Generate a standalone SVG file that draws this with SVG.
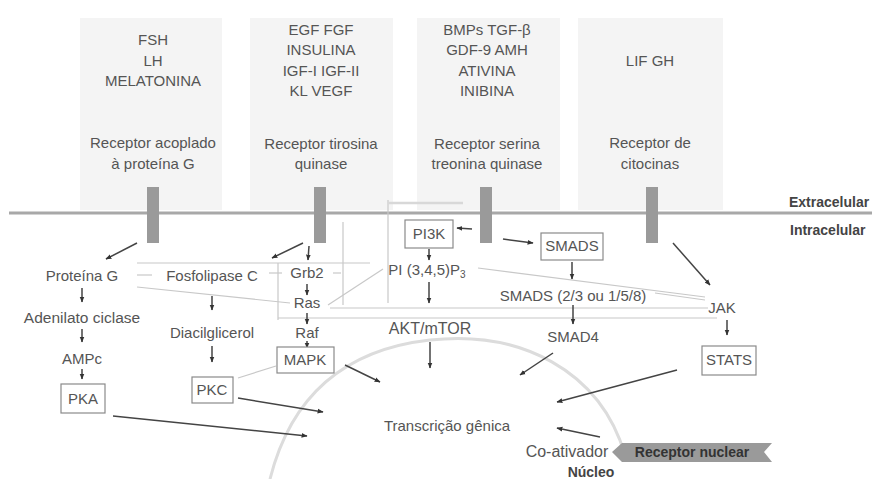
<svg xmlns="http://www.w3.org/2000/svg" width="872" height="479" viewBox="0 0 872 479">
<defs>
<marker id="ah" viewBox="0 0 10 10" refX="9" refY="5" markerWidth="6" markerHeight="6" orient="auto" markerUnits="userSpaceOnUse"><path d="M0,1 L10,5 L0,9 z" fill="#333"/></marker>
<style>
text{font-family:"Liberation Sans",Arial,sans-serif;font-size:15px;fill:#555;text-anchor:middle}
.panel{fill:#f4f4f4}
.rec{fill:#9a9a9a}
.box{fill:#fff;stroke:#8a8a8a;stroke-width:1.2}
.arr{stroke:#444;stroke-width:1.5;fill:none;marker-end:url(#ah)}
.thin{stroke:#c8c8c8;stroke-width:1.2;fill:none}
.lab{font-weight:bold;fill:#444;font-size:14px;text-anchor:start}
</style>
</defs>
<rect width="872" height="479" fill="#fff"/>
<g id="panels">
<rect class="panel" x="80" y="18" width="142" height="192"/>
<rect class="panel" x="250" y="18" width="143" height="192"/>
<rect class="panel" x="417" y="18" width="143" height="192"/>
<rect class="panel" x="578" y="18" width="145" height="192"/>
</g>
<g id="ligands-g">
<text x="153" y="45">FSH</text><text x="153" y="66">LH</text><text x="153" y="86">MELATONINA</text>
<text x="153" y="148">Receptor acoplado</text><text x="153" y="169">à proteína G</text>
</g>
<g id="ligands-tk">
<text x="321" y="35">EGF FGF</text><text x="321" y="55">INSULINA</text><text x="321" y="76">IGF-I IGF-II</text><text x="321" y="96">KL VEGF</text>
<text x="321" y="149">Receptor tirosina</text><text x="321" y="169">quinase</text>
</g>
<g id="ligands-st">
<text x="487" y="35">BMPs TGF-β</text><text x="487" y="55">GDF-9 AMH</text><text x="487" y="76">ATIVINA</text><text x="487" y="96">INIBINA</text>
<text x="487" y="149">Receptor serina</text><text x="487" y="169">treonina quinase</text>
</g>
<g id="ligands-cit">
<text x="650" y="66">LIF GH</text>
<text x="650" y="148">Receptor de</text><text x="650" y="169">citocinas</text>
</g>
<g id="membrane">
<line x1="9" y1="213" x2="872" y2="213" stroke="#a8a8a8" stroke-width="3"/>
<text class="lab" x="789" y="207">Extracelular</text>
<text class="lab" x="790" y="235">Intracelular</text>
</g>
<g id="receptors">
<rect class="rec" x="147" y="187" width="12" height="56"/>
<rect class="rec" x="314" y="187" width="12" height="56"/>
<rect class="rec" x="480" y="187" width="12" height="56"/>
<rect class="rec" x="646" y="187" width="12" height="56"/>
</g>
<g id="nucleus-arc">
<path d="M270 479 C290 400 340 350 430 340 S600 370 625 455" stroke="#dcdcdc" stroke-width="3" fill="none"/>
</g>
<g id="connectors">
<line class="thin" x1="137" y1="275" x2="152" y2="275"/>
<line class="thin" x1="137" y1="287" x2="290" y2="303"/>
<line class="thin" x1="137" y1="263" x2="370" y2="263"/>
<line class="thin" x1="278" y1="263" x2="278" y2="320"/>
<line class="thin" x1="269" y1="273" x2="282" y2="273"/>
<line class="thin" x1="333" y1="273" x2="341" y2="273"/>
<line class="thin" x1="343" y1="222" x2="343" y2="305"/>
<line class="thin" x1="388" y1="200" x2="388" y2="303"/>
<line x1="388" y1="203" x2="463" y2="203" stroke="#d8d8d8" stroke-width="2.5"/>
<line class="thin" x1="328" y1="305" x2="383" y2="269"/>
<line class="thin" x1="330" y1="308" x2="708" y2="308"/>
<line class="thin" x1="278" y1="318" x2="717" y2="318"/>
<line class="thin" x1="478" y1="268" x2="705" y2="297"/>
<line class="thin" x1="655" y1="293" x2="705" y2="300"/>
<line class="thin" x1="238" y1="378" x2="276" y2="366"/>
<line class="arr" x1="137" y1="243" x2="106" y2="259"/>
<line class="arr" x1="82" y1="288" x2="82" y2="302"/>
<line class="arr" x1="82" y1="329" x2="82" y2="342"/>
<line class="arr" x1="82" y1="369" x2="82" y2="379"/>
<line class="arr" x1="113" y1="416" x2="307" y2="436"/>
<line class="arr" x1="212" y1="296" x2="212" y2="310"/>
<line class="arr" x1="212" y1="346" x2="212" y2="362"/>
<line class="arr" x1="238" y1="398" x2="323" y2="412"/>
<line class="arr" x1="303" y1="243" x2="272" y2="258"/>
<line class="arr" x1="309" y1="246" x2="308" y2="260"/>
<line class="arr" x1="307" y1="284" x2="307" y2="295"/>
<line class="arr" x1="307" y1="313" x2="307" y2="324"/>
<line class="arr" x1="307" y1="341" x2="307" y2="348"/>
<line class="arr" x1="345" y1="365" x2="380" y2="382"/>
<line class="arr" x1="472" y1="229" x2="457" y2="228"/>
<line class="arr" x1="429" y1="249" x2="429" y2="260"/>
<line class="arr" x1="429" y1="282" x2="429" y2="303"/>
<line class="arr" x1="430" y1="342" x2="430" y2="368"/>
<line class="arr" x1="503" y1="239" x2="533" y2="243"/>
<line class="arr" x1="572" y1="262" x2="572" y2="279"/>
<line class="arr" x1="573" y1="305" x2="573" y2="324"/>
<line class="arr" x1="553" y1="353" x2="520" y2="375"/>
<line class="arr" x1="673" y1="243" x2="710" y2="285"/>
<line class="arr" x1="727" y1="320" x2="727" y2="335"/>
<line class="arr" x1="677" y1="370" x2="557" y2="402"/>
<line class="arr" x1="600" y1="437" x2="557" y2="428"/>
</g>
<g id="proteina-g"><text x="82" y="281">Proteína G</text></g>
<g id="adenilato-ciclase"><text x="82" y="323" style="font-size:15.5px">Adenilato ciclase</text></g>
<g id="ampc"><text x="82" y="364">AMPc</text></g>
<g id="pka"><rect class="box" x="61" y="384" width="44" height="29"/><text x="83" y="404">PKA</text></g>
<g id="fosfolipase-c"><text x="212" y="281">Fosfolipase C</text></g>
<g id="diacilglicerol"><text x="212" y="338">Diacilglicerol</text></g>
<g id="pkc"><rect class="box" x="192" y="377" width="41" height="26"/><text x="212" y="395">PKC</text></g>
<g id="grb2"><text x="307" y="278">Grb2</text></g>
<g id="ras"><text x="307" y="308">Ras</text></g>
<g id="raf"><text x="307" y="338">Raf</text></g>
<g id="mapk"><rect class="box" x="277" y="347" width="57" height="26"/><text x="305" y="365">MAPK</text></g>
<g id="pi3k"><rect class="box" x="405" y="220" width="48" height="28"/><text x="429" y="239">PI3K</text></g>
<g id="pip3"><text x="427" y="275">PI (3,4,5)P<tspan style="font-size:10px" dy="3">3</tspan></text></g>
<g id="akt-mtor"><text x="430" y="334" style="font-size:16px">AKT/mTOR</text></g>
<g id="smads"><rect class="box" x="541" y="233" width="62" height="27"/><text x="572" y="251">SMADS</text></g>
<g id="smads-r"><text x="573" y="301">SMADS (2/3 ou 1/5/8)</text></g>
<g id="smad4"><text x="573" y="342">SMAD4</text></g>
<g id="jak"><text x="722" y="313">JAK</text></g>
<g id="stats"><rect class="box" x="702" y="346" width="54" height="29"/><text x="729" y="365">STATS</text></g>
<g id="transcricao"><text x="447" y="431">Transcrição gênica</text></g>
<g id="coativador"><text x="567" y="457" style="font-size:16px">Co-ativador</text></g>
<g id="nucleo"><text x="591" y="477" style="font-weight:bold;fill:#444;font-size:14px">Núcleo</text></g>
<g id="receptor-nuclear">
<polygon points="612,452 622,443 772,443 764,452 772,462 622,462" fill="#9a9a9a"/>
<text x="692" y="457" style="font-weight:bold;fill:#333;font-size:14px">Receptor nuclear</text>
</g>
</svg>
